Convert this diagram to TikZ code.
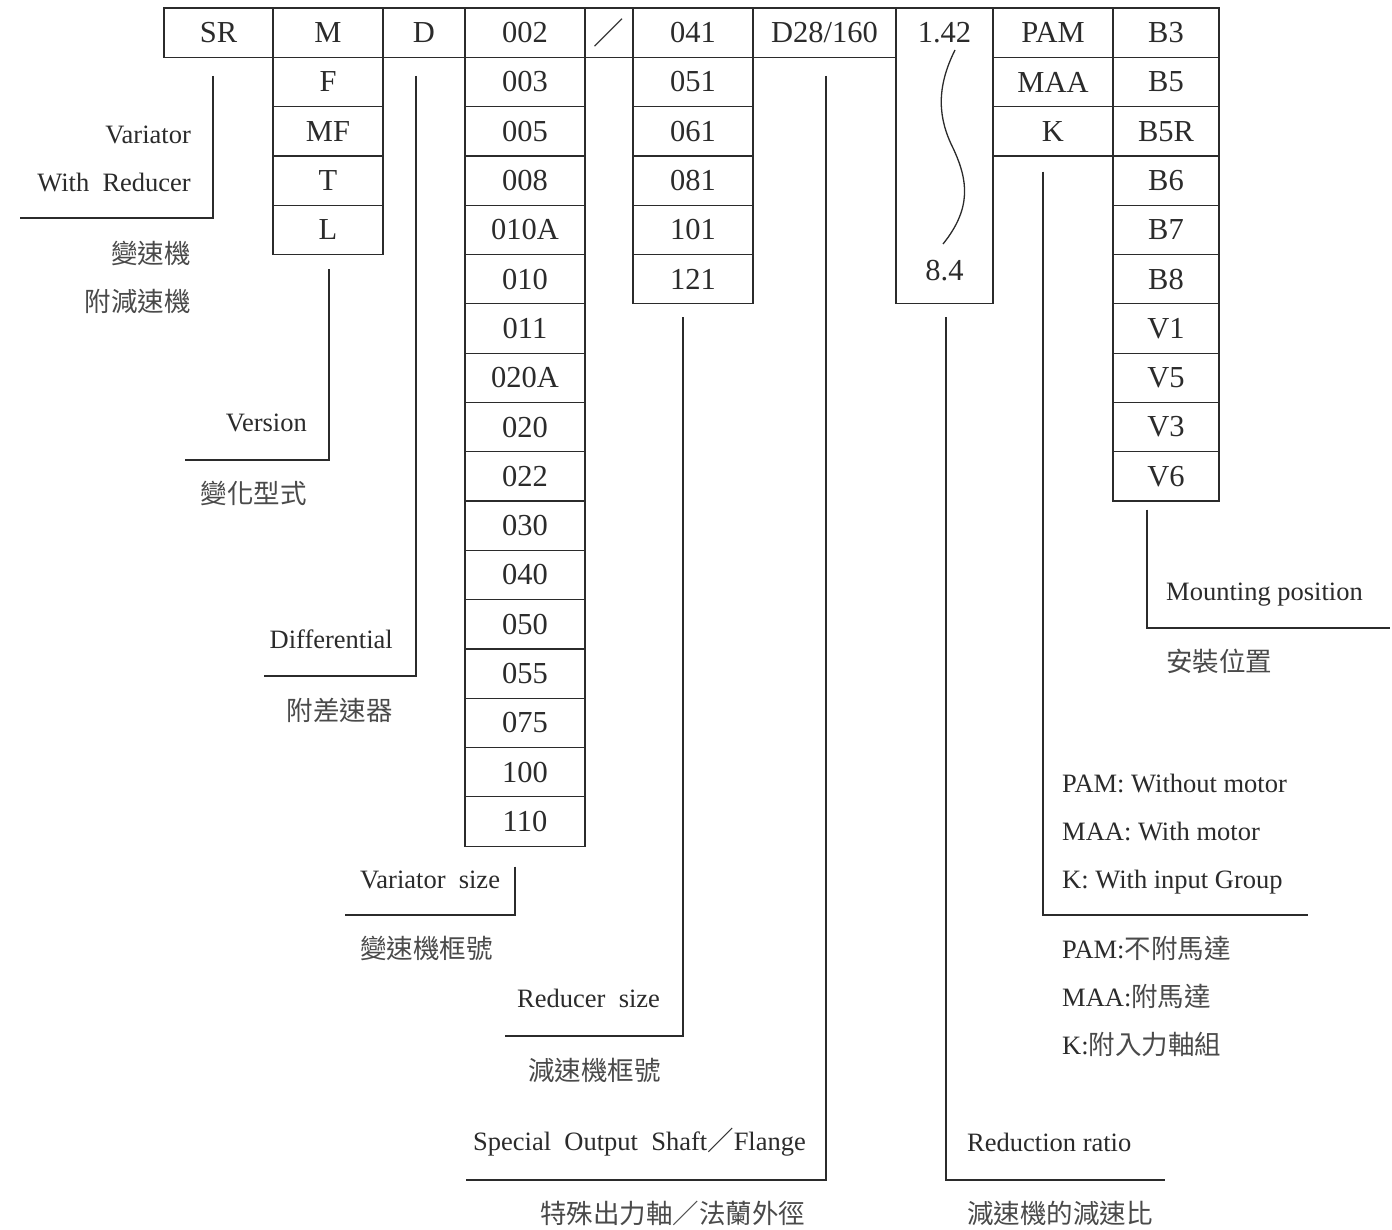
\documentclass[tikz,border=0pt]{standalone}
\usepackage{fontspec}
\setmainfont{Liberation Serif}
\newfontfamily\cjk{Noto Sans CJK TC}
\definecolor{ink}{HTML}{2B2B2B}
\definecolor{cjkink}{HTML}{4A4A4A}
\tikzset{
  cell/.style={draw=ink, line width=1.2pt, inner sep=0pt, text=ink,
    font=\fontsize{30.5}{34}\selectfont, anchor=center},
  celltext/.style={inner sep=0pt, text=ink, font=\fontsize{30.5}{34}\selectfont, anchor=center},
  lead/.style={draw=ink, line width=1.8pt},
  lbl/.style={inner sep=0pt, text=ink, font=\fontsize{26.5}{30}\selectfont},
  clbl/.style={inner sep=0pt, text=cjkink, font=\fontsize{26.5}{30}\selectfont\cjk},
}
\begin{document}
\begin{tikzpicture}[x=1pt,y=-1pt]
\useasboundingbox[fill=white] (0,0) rectangle (1392,1229);

% ---- code cells ----
\node[cell, minimum width=109pt, minimum height=49.3pt] (sr-0) at (218.5,32.65) {SR};
\foreach \t [count=\i from 0] in {M,F,MF,T,L}
  \node[cell, minimum width=110pt, minimum height=49.3pt] (m-\i) at (328,{32.65+49.3*\i}) {\t};
\node[cell, minimum width=82pt, minimum height=49.3pt] (d-0) at (424,32.65) {D};
\foreach \t [count=\i from 0] in {002,003,005,008,010A,010,011,020A,020,022,030,040,050,055,075,100,110}
  \node[cell, minimum width=120pt, minimum height=49.3pt] (vs-\i) at (525,{32.65+49.3*\i}) {\t};
\node[cell, minimum width=48pt, minimum height=49.3pt] (sl-0) at (609,32.65) {\cjk ／};
\foreach \t [count=\i from 0] in {041,051,061,081,101,121}
  \node[cell, minimum width=120pt, minimum height=49.3pt] (rs-\i) at (693,{32.65+49.3*\i}) {\t};
\node[cell, minimum width=143pt, minimum height=49.3pt] (sh-0) at (824.5,32.65) {D28/160};
\node[cell, minimum width=97pt, minimum height=295.8pt] (ratio) at (944.5,155.9) {};
\node[celltext] (r1) at (944.5,32.65) {1.42};
\node[celltext] (r2) at (944.5,270.15) {8.4};
\foreach \t [count=\i from 0] in {PAM,MAA,K}
  \node[cell, minimum width=120pt, minimum height=49.3pt] (pam-\i) at (1053,{32.65+49.3*\i}) {\t};
\foreach \t [count=\i from 0] in {B3,B5,B5R,B6,B7,B8,V1,V5,V3,V6}
  \node[cell, minimum width=106pt, minimum height=49.3pt] (mp-\i) at (1166,{32.65+49.3*\i}) {\t};

% squiggle inside ratio box
\draw[ink, line width=1.3pt] (955,50) .. controls (936,88) and (938,118) .. (953,148)
  .. controls (968,180) and (972,208) .. (943,244);

% ---- leader end points ----
\coordinate (srE) at (20,218);
\coordinate (mE) at (185,460);
\coordinate (dE) at (264,676);
\coordinate (vsE) at (345,915);
\coordinate (rsE) at (505,1036);
\coordinate (shE) at (466,1180);
\coordinate (raE) at (1165,1180);
\coordinate (pamE) at (1308,915);
\coordinate (mpE) at (1390,628);

\draw[lead] ([xshift=-5.5pt,yshift=-18pt]sr-0.south) |- (srE);
\draw[lead] ([xshift=1pt,yshift=-14pt]m-4.south) |- (mE);
\draw[lead] ([xshift=-8pt,yshift=-18pt]d-0.south) |- (dE);
\draw[lead] ([xshift=-10pt,yshift=-20pt]vs-16.south) |- (vsE);
\draw[lead] ([xshift=-10pt,yshift=-13pt]rs-5.south) |- (rsE);
\draw[lead] ([xshift=1.5pt,yshift=-18pt]sh-0.south) |- (shE);
\draw[lead] ([xshift=1.5pt,yshift=-13pt]ratio.south) |- (raE);
\draw[lead] ([xshift=-10pt,yshift=-15pt]pam-2.south) |- (pamE);
\draw[lead] ([xshift=-19pt,yshift=-8pt]mp-9.south) |- (mpE);

% ---- labels ----
\node[lbl, anchor=base east] (l1) at (191,143) {Variator};
\node[lbl, anchor=base east] (l2) at (191,191) {With\ \ Reducer};
\node[clbl, anchor=base east] (c1) at (191,263) {變速機};
\node[clbl, anchor=base east] (c2) at (191,311) {附減速機};

\node[lbl, anchor=base east] (l3) at (307,431) {Version};
\node[clbl, anchor=base east] (c3) at (307,503) {變化型式};

\node[lbl, anchor=base east] (l4) at (393,648) {Differential};
\node[clbl, anchor=base east] (c4) at (393,720) {附差速器};

\node[lbl, anchor=base west] (l5) at (360,888) {Variator\ \ size};
\node[clbl, anchor=base west] (c5) at (360,958) {變速機框號};

\node[lbl, anchor=base west] (l6) at (517,1007) {Reducer\ \ size};
\node[clbl, anchor=base west] (c6) at (528,1080) {減速機框號};

\node[lbl, anchor=base west] (l7) at (473,1150) {Special\ \ Output\ \ Shaft{\cjk ／}Flange};
\node[clbl, anchor=base west] (c7) at (540,1223) {特殊出力軸／法蘭外徑};

\node[lbl, anchor=base west] (l8) at (967,1151) {Reduction ratio};
\node[clbl, anchor=base west] (c8) at (967,1223) {減速機的減速比};

\node[lbl, anchor=base west] (l9) at (1062,792) {PAM: Without motor};
\node[lbl, anchor=base west] (l10) at (1062,840) {MAA: With motor};
\node[lbl, anchor=base west] (l11) at (1062,888) {K: With input Group};
\node[lbl, anchor=base west] (c9) at (1062,958) {PAM:{\color{cjkink}\cjk 不附馬達}};
\node[lbl, anchor=base west] (c10) at (1062,1006) {MAA:{\color{cjkink}\cjk 附馬達}};
\node[lbl, anchor=base west] (c11) at (1062,1054) {K:{\color{cjkink}\cjk 附入力軸組}};

\node[lbl, anchor=base west] (l12) at (1166,600) {Mounting position};
\node[clbl, anchor=base west] (c12) at (1166,671) {安裝位置};
\end{tikzpicture}
\end{document}
